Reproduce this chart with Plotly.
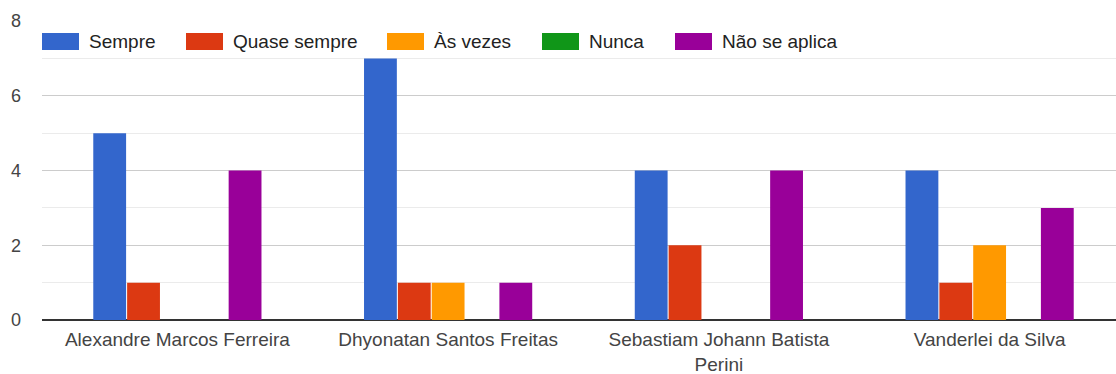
import plotly.graph_objects as go

# --- datos ---
professores = [
    "Alexandre Marcos Ferreira",
    "Dhyonatan Santos Freitas",
    "Sebastiam Johann Batista<br>Perini",
    "Vanderlei da Silva",
]
sempre = [5, 7, 4, 4]
quase_sempre = [1, 1, 2, 1]
as_vezes = [0, 1, 0, 2]
nunca = [0, 0, 0, 0]
nao_se_aplica = [4, 1, 4, 3]

nomes = ["Sempre", "Quase sempre", "Às vezes", "Nunca", "Não se aplica"]
valores = [sempre, quase_sempre, as_vezes, nunca, nao_se_aplica]
cores = ["#3366cc", "#dc3912", "#ff9900", "#109618", "#990099"]

# posição (px) de cada amostra da legenda
legenda_x = [42, 186, 387, 542, 675]

# a área do gráfico original continua um pouco além da borda direita
W, H = 1125, 374
L, R, T, B = 42, 0, 21, 54
pw, ph = W - L - R, H - T - B


def px_x(p):
    return (p - L) / pw


def px_y(p):
    return (H - B - p) / ph


fig = go.Figure()
for nome, vals, cor in zip(nomes, valores, cores):
    fig.add_trace(
        go.Bar(
            x=professores,
            y=vals,
            name=nome,
            marker=dict(color=cor, line=dict(width=0)),
        )
    )

# legenda manual (amostras retangulares largas como no original)
for nome, cor, lx in zip(nomes, cores, legenda_x):
    fig.add_shape(
        type="rect",
        xref="paper",
        yref="paper",
        x0=px_x(lx),
        x1=px_x(lx + 37),
        y0=px_y(50),
        y1=px_y(33),
        fillcolor=cor,
        line=dict(width=0),
    )
    fig.add_annotation(
        xref="paper",
        yref="paper",
        x=px_x(lx + 45),
        y=px_y(42),
        text=nome,
        showarrow=False,
        xanchor="left",
        yanchor="middle",
        font=dict(size=19, color="#222222"),
    )

fig.update_layout(
    width=W,
    height=H,
    margin=dict(l=L, r=R, t=T, b=B),
    plot_bgcolor="white",
    paper_bgcolor="white",
    font=dict(family="Arial, Liberation Sans, sans-serif", size=19, color="#444444"),
    barmode="group",
    bargap=0.375,
    bargroupgap=0.03,
    showlegend=False,
)
fig.update_xaxes(
    showgrid=False,
    ticks="",
    automargin=False,
    ticklabelstandoff=6,
    tickfont=dict(size=19, color="#444444"),
)
fig.update_yaxes(
    range=[0, 8],
    dtick=2,
    showgrid=True,
    gridcolor="#cccccc",
    gridwidth=1,
    minor=dict(dtick=1, showgrid=True, gridcolor="#ebebeb", gridwidth=1),
    zeroline=True,
    zerolinecolor="#333333",
    zerolinewidth=2,
    automargin=False,
    ticklabelstandoff=20,
    tickfont=dict(size=18, color="#444444"),
)

fig.write_html(
    "out.html",
    config={"displayModeBar": False},
    post_script="document.body.style.margin='0';document.body.style.overflow='hidden';",
)
